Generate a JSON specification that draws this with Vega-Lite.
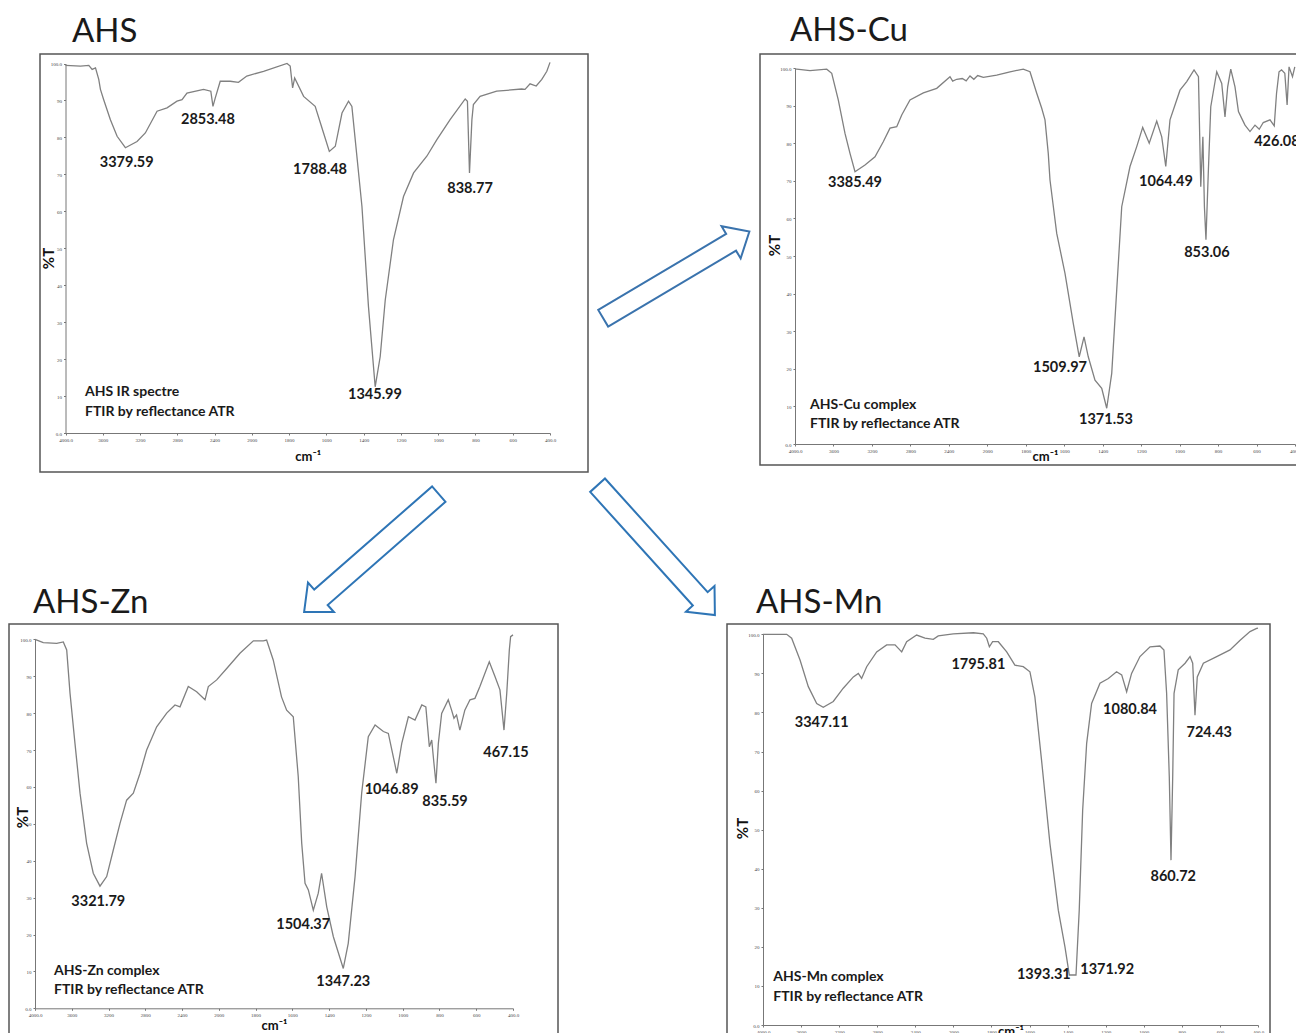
{
  "$schema": "https://vega.github.io/schema/vega-lite/v6.json",
  "background": "white",
  "padding": {"left": 6, "top": 14, "right": 0, "bottom": 0},
  "config": {
    "view": {"stroke": "#555555", "strokeWidth": 1.5},
    "font": "Lato",
    "axis": {"labelFont": "Liberation Serif", "labelFontSize": 5, "labelColor": "#444444", "tickColor": "#777777", "domainColor": "#777777", "tickSize": 2, "grid": false, "titleFont": "Lato, DejaVu Sans", "titleFontWeight": "bold", "titleColor": "#111111", "labelOverlap": false, "labelFlush": false, "labelBound": false, "labelPadding": 2},
    "title": {"font": "Lato", "fontSize": 33, "fontWeight": "normal", "color": "#1a1a1a", "anchor": "start", "frame": "group", "baseline": "alphabetic"}
  },
  "datasets": {
    "ahs": [
      {"w":4000,"T":99.5},{"w":3839,"T":99.3},{"w":3750,"T":99.5},{"w":3714,"T":98.4},{"w":3678,"T":98.8},{"w":3643,"T":95.7},{"w":3625,"T":93},{"w":3590,"T":90.2},{"w":3518,"T":84.8},{"w":3446,"T":80.3},{"w":3357,"T":77.2},{"w":3232,"T":78.9},{"w":3143,"T":81.2},{"w":3017,"T":87.1},{"w":2910,"T":88},{"w":2803,"T":89.8},{"w":2749,"T":90.2},{"w":2696,"T":92},{"w":2518,"T":93},{"w":2440,"T":92.5},{"w":2417,"T":88.4},{"w":2392,"T":90.7},{"w":2339,"T":95.2},{"w":2232,"T":95.2},{"w":2143,"T":94.9},{"w":2054,"T":96.6},{"w":1937,"T":97.9},{"w":1811,"T":100},{"w":1794,"T":99.3},{"w":1781,"T":93.4},{"w":1770,"T":96.1},{"w":1722,"T":91.1},{"w":1660,"T":88.4},{"w":1615,"T":81.2},{"w":1584,"T":76.2},{"w":1552,"T":77.6},{"w":1516,"T":86.6},{"w":1481,"T":89.8},{"w":1463,"T":88.4},{"w":1409,"T":61.3},{"w":1374,"T":34.2},{"w":1338,"T":12.5},{"w":1311,"T":20.7},{"w":1284,"T":36},{"w":1240,"T":52.3},{"w":1186,"T":64},{"w":1132,"T":70.4},{"w":1061,"T":74.9},{"w":1007,"T":79.4},{"w":936,"T":84.8},{"w":855,"T":90.4},{"w":843,"T":89.8},{"w":832,"T":70.4},{"w":819,"T":84.8},{"w":811,"T":88.9},{"w":775,"T":91.1},{"w":686,"T":92.5},{"w":552,"T":93.1},{"w":534,"T":93},{"w":507,"T":94.5},{"w":474,"T":93.9},{"w":444,"T":95.7},{"w":417,"T":97.9},{"w":400,"T":100.3}
    ],
    "ahs_lab": [
      {"w":3343,"T":73.1,"label":"3379.59"},{"w":2471,"T":84.8,"label":"2853.48"},{"w":1634,"T":71.1,"label":"1788.48"},{"w":829,"T":65.9,"label":"838.77"},{"w":1339,"T":10.3,"label":"1345.99"}
    ],
    "ahs_note": [
      {"w":3791,"T":11.2,"label":"AHS IR spectre"},{"w":3791,"T":5.8,"label":"FTIR by reflectance ATR"}
    ],
    "cu": [
      {"w":4000,"T":99.7},{"w":3982,"T":99.7},{"w":3844,"T":99.3},{"w":3670,"T":99.7},{"w":3618,"T":98.6},{"w":3550,"T":91.5},{"w":3480,"T":82.6},{"w":3428,"T":77.3},{"w":3376,"T":72.4},{"w":3272,"T":74.2},{"w":3168,"T":76.4},{"w":3082,"T":80.4},{"w":3012,"T":84},{"w":2942,"T":84.4},{"w":2890,"T":87.5},{"w":2804,"T":91.5},{"w":2665,"T":93.4},{"w":2526,"T":94.6},{"w":2388,"T":97.7},{"w":2360,"T":96.5},{"w":2318,"T":97},{"w":2260,"T":97.2},{"w":2220,"T":96.6},{"w":2180,"T":97.9},{"w":2140,"T":97},{"w":2100,"T":98},{"w":2041,"T":97.5},{"w":1951,"T":98.1},{"w":1882,"T":99},{"w":1813,"T":99.7},{"w":1778,"T":99},{"w":1743,"T":93.3},{"w":1717,"T":89.3},{"w":1700,"T":86.2},{"w":1683,"T":77.3},{"w":1674,"T":70.2},{"w":1639,"T":56},{"w":1596,"T":45.4},{"w":1553,"T":32.1},{"w":1522,"T":23.2},{"w":1497,"T":28.5},{"w":1475,"T":23.2},{"w":1440,"T":17},{"w":1405,"T":14.8},{"w":1379,"T":9.5},{"w":1353,"T":18.8},{"w":1327,"T":41},{"w":1301,"T":63.1},{"w":1258,"T":73.8},{"w":1223,"T":79.1},{"w":1192,"T":84.2},{"w":1158,"T":80},{"w":1119,"T":85.9},{"w":1093,"T":81.7},{"w":1072,"T":73.8},{"w":1050,"T":86.2},{"w":998,"T":94.1},{"w":963,"T":96.4},{"w":925,"T":99.5},{"w":902,"T":97.7},{"w":890,"T":68.4},{"w":879,"T":81.7},{"w":871,"T":63.1},{"w":863,"T":54.3},{"w":851,"T":72},{"w":838,"T":89.7},{"w":807,"T":99},{"w":781,"T":95.9},{"w":764,"T":87},{"w":750,"T":95},{"w":734,"T":99.7},{"w":712,"T":95},{"w":694,"T":88.4},{"w":677,"T":86.6},{"w":660,"T":84.8},{"w":634,"T":83.1},{"w":608,"T":84.8},{"w":586,"T":83.7},{"w":565,"T":85.5},{"w":530,"T":86.2},{"w":508,"T":84.6},{"w":496,"T":93.3},{"w":483,"T":99},{"w":470,"T":99.5},{"w":453,"T":98.6},{"w":441,"T":90.2},{"w":431,"T":100.3},{"w":413,"T":97.7},{"w":401,"T":100.3}
    ],
    "cu_lab": [
      {"w":3376,"T":69.3,"label":"3385.49"},{"w":1622,"T":20.1,"label":"1509.97"},{"w":1383,"T":6.4,"label":"1371.53"},{"w":1071,"T":69.8,"label":"1064.49"},{"w":858,"T":50.9,"label":"853.06"},{"w":494,"T":80.4,"label":"426.08"}
    ],
    "cu_note": [
      {"w":3844,"T":10.4,"label":"AHS-Cu complex"},{"w":3844,"T":5.3,"label":"FTIR by reflectance ATR"}
    ],
    "zn": [
      {"w":4000,"T":100},{"w":3910,"T":99.1},{"w":3764,"T":98.9},{"w":3692,"T":99.3},{"w":3655,"T":97.1},{"w":3619,"T":85.4},{"w":3565,"T":71.8},{"w":3510,"T":58.3},{"w":3438,"T":44.7},{"w":3366,"T":36.6},{"w":3293,"T":33.1},{"w":3220,"T":35.7},{"w":3148,"T":42.9},{"w":3075,"T":50.1},{"w":3003,"T":56.4},{"w":2930,"T":58.3},{"w":2857,"T":63.7},{"w":2785,"T":70},{"w":2676,"T":76.3},{"w":2567,"T":80},{"w":2477,"T":82.2},{"w":2422,"T":81.7},{"w":2332,"T":87.2},{"w":2241,"T":85.8},{"w":2150,"T":83.6},{"w":2114,"T":87.2},{"w":2023,"T":89},{"w":1957,"T":92.1},{"w":1885,"T":96.2},{"w":1812,"T":99.6},{"w":1758,"T":99.6},{"w":1740,"T":99.8},{"w":1704,"T":94.4},{"w":1659,"T":84.4},{"w":1631,"T":80.8},{"w":1595,"T":79},{"w":1568,"T":62.8},{"w":1549,"T":44.7},{"w":1531,"T":33.9},{"w":1513,"T":32.1},{"w":1486,"T":26.6},{"w":1459,"T":31.2},{"w":1441,"T":36.6},{"w":1413,"T":27.5},{"w":1377,"T":19.4},{"w":1323,"T":10.8},{"w":1296,"T":17.6},{"w":1259,"T":35.7},{"w":1223,"T":58.3},{"w":1187,"T":73.6},{"w":1150,"T":76.8},{"w":1105,"T":75},{"w":1078,"T":74.5},{"w":1032,"T":63.7},{"w":1005,"T":71.8},{"w":969,"T":79},{"w":933,"T":78.1},{"w":896,"T":82.2},{"w":874,"T":81.7},{"w":855,"T":70.9},{"w":842,"T":72.7},{"w":830,"T":66.4},{"w":819,"T":61},{"w":806,"T":71.8},{"w":788,"T":79.9},{"w":752,"T":83.6},{"w":734,"T":80.8},{"w":721,"T":78.6},{"w":707,"T":79.5},{"w":689,"T":75.4},{"w":662,"T":80.8},{"w":634,"T":83.6},{"w":607,"T":84},{"w":580,"T":87.2},{"w":529,"T":93.9},{"w":498,"T":89.9},{"w":471,"T":86.3},{"w":449,"T":75.4},{"w":434,"T":85.4},{"w":420,"T":97.1},{"w":413,"T":100.7},{"w":400,"T":101.2}
    ],
    "zn_lab": [
      {"w":3311,"T":28.9,"label":"3321.79"},{"w":1541,"T":22.6,"label":"1504.37"},{"w":1323,"T":7.2,"label":"1347.23"},{"w":1060,"T":59.2,"label":"1046.89"},{"w":770,"T":56,"label":"835.59"},{"w":438,"T":69.1,"label":"467.15"}
    ],
    "zn_note": [
      {"w":3793,"T":10.2,"label":"AHS-Zn complex"},{"w":3793,"T":4.9,"label":"FTIR by reflectance ATR"}
    ],
    "mn": [
      {"w":4000,"T":100},{"w":3751,"T":100},{"w":3699,"T":99},{"w":3611,"T":93.4},{"w":3524,"T":86.6},{"w":3436,"T":82.3},{"w":3367,"T":81.3},{"w":3262,"T":82.8},{"w":3157,"T":86.2},{"w":3051,"T":89.1},{"w":2999,"T":90},{"w":2964,"T":88.7},{"w":2911,"T":91.7},{"w":2806,"T":95.5},{"w":2701,"T":97.3},{"w":2613,"T":97.3},{"w":2543,"T":95.5},{"w":2491,"T":98.1},{"w":2386,"T":99.8},{"w":2298,"T":99},{"w":2211,"T":98.7},{"w":2159,"T":99.6},{"w":2001,"T":100.1},{"w":1895,"T":100.4},{"w":1843,"T":100.1},{"w":1825,"T":99},{"w":1811,"T":96.8},{"w":1794,"T":98.1},{"w":1764,"T":98.1},{"w":1720,"T":95.5},{"w":1677,"T":92.1},{"w":1633,"T":91.7},{"w":1598,"T":90.4},{"w":1572,"T":84},{"w":1537,"T":67.8},{"w":1493,"T":46.5},{"w":1449,"T":29.4},{"w":1414,"T":20},{"w":1391,"T":12.8},{"w":1356,"T":12.8},{"w":1339,"T":29.4},{"w":1321,"T":55},{"w":1300,"T":72.1},{"w":1274,"T":82.3},{"w":1230,"T":87.5},{"w":1186,"T":88.7},{"w":1143,"T":90.4},{"w":1116,"T":89.6},{"w":1090,"T":85.3},{"w":1064,"T":90},{"w":1020,"T":94.3},{"w":967,"T":96.8},{"w":915,"T":97},{"w":894,"T":96},{"w":880,"T":84.9},{"w":866,"T":63.6},{"w":857,"T":42.2},{"w":848,"T":63.6},{"w":841,"T":84.9},{"w":819,"T":90.9},{"w":783,"T":92.6},{"w":757,"T":94.3},{"w":743,"T":92.6},{"w":731,"T":79.3},{"w":719,"T":89.1},{"w":687,"T":92.6},{"w":617,"T":94.3},{"w":547,"T":96},{"w":494,"T":98.5},{"w":442,"T":100.7},{"w":407,"T":101.5},{"w":400,"T":101.6}
    ],
    "mn_lab": [
      {"w":3383,"T":77.2,"label":"3347.11"},{"w":1869,"T":92.1,"label":"1795.81"},{"w":1072,"T":80.6,"label":"1080.84"},{"w":656,"T":74.7,"label":"724.43"},{"w":845,"T":38,"label":"860.72"},{"w":1525,"T":12.8,"label":"1393.31"},{"w":1192,"T":14.1,"label":"1371.92"}
    ],
    "mn_note": [
      {"w":3892,"T":12.4,"label":"AHS-Mn complex"},{"w":3892,"T":7.2,"label":"FTIR by reflectance ATR"}
    ]
  },
  "bounds": "flush",
  "spacing": 570,
  "vconcat": [
    {
      "bounds": "flush",
      "spacing": 30,
      "hconcat": [
        {"width": 1, "height": 418, "view": {"stroke": null}, "data": {"values": [{}]}, "mark": {"type": "point", "opacity": 0}, "encoding": {}},
        {
          "bounds": "flush",
          "spacing": 172,
          "hconcat": [
            {
              "width": 548, "height": 418,
              "title": {"text": "AHS", "dx": 32, "offset": 5},
              "layer": [
                {
                  "data": {"name": "ahs"},
                  "mark": {"type": "line", "color": "#808080", "strokeWidth": 1.3},
                  "encoding": {
                    "x": {"field": "w", "type": "quantitative", "scale": {"domain": [4000, 2000, 400], "range": [25.5, 211.8, 510], "nice": false, "zero": false},
                      "axis": {"orient": "bottom", "offset": -39, "values": [4000,3600,3200,2800,2400,2000,1800,1600,1400,1200,1000,800,600,400], "format": "d", "labelExpr": "datum.value == 4000 ? '4000.0' : datum.value == 400 ? '400.0' : datum.label", "title": "cm⁻¹", "titleFontSize": 13, "titleBaseline": "middle", "titleY": 23}},
                    "y": {"field": "T", "type": "quantitative", "scale": {"domain": [0, 100], "range": [379, 9.5], "nice": false, "zero": false},
                      "axis": {"orient": "left", "offset": -25.5, "values": [0,5,10,15,20,25,30,35,40,45,50,55,60,65,70,75,80,85,90,95,100], "labelExpr": "datum.value == 100 ? '100.0' : datum.value == 0 ? '0.0' : datum.label", "title": "%T", "titleFontSize": 15, "titleBaseline": "middle", "titleAngle": -90, "titleX": -17, "titleY": 204}}
                  }
                },
                {
                  "data": {"name": "ahs_lab"},
                  "mark": {"type": "text", "font": "Lato", "fontWeight": "bold", "fontSize": 14.5, "color": "#1a1a1a", "align": "center", "baseline": "middle"},
                  "encoding": {"x": {"field": "w", "type": "quantitative"}, "y": {"field": "T", "type": "quantitative"}, "text": {"field": "label"}}
                },
                {
                  "data": {"name": "ahs_note"},
                  "mark": {"type": "text", "font": "Lato", "fontWeight": "bold", "fontSize": 14, "color": "#1a1a1a", "align": "left", "baseline": "middle"},
                  "encoding": {"x": {"field": "w", "type": "quantitative"}, "y": {"field": "T", "type": "quantitative"}, "text": {"field": "label"}}
                },
                {
                  "data": {"values": [{}]},
                  "mark": {"type": "point", "shape": "M-1,-0.114L0.75,-0.114L0.75,-0.22L1,0L0.75,0.22L0.75,0.114L-1,0.114Z", "size": 28900, "angle": -30.7, "filled": true, "fill": "#ffffff", "stroke": "#3a73ad", "strokeWidth": 2, "opacity": 1},
                  "encoding": {"x": {"datum": -277.6, "type": "quantitative"}, "y": {"datum": 42.8, "type": "quantitative"}}
                },
                {
                  "data": {"values": [{}]},
                  "mark": {"type": "point", "shape": "M-1,-0.114L0.75,-0.114L0.75,-0.22L1,0L0.75,0.22L0.75,0.114L-1,0.114Z", "size": 32041, "angle": 138.8, "filled": true, "fill": "#ffffff", "stroke": "#2e75b6", "strokeWidth": 2, "opacity": 1},
                  "encoding": {"x": {"datum": 1358, "type": "quantitative"}, "y": {"datum": -32.5, "type": "quantitative"}}
                },
                {
                  "data": {"values": [{}]},
                  "mark": {"type": "point", "shape": "M-1,-0.114L0.75,-0.114L0.75,-0.22L1,0L0.75,0.22L0.75,0.114L-1,0.114Z", "size": 30625, "angle": 47.9, "filled": true, "fill": "#ffffff", "stroke": "#2e75b6", "strokeWidth": 2, "opacity": 1},
                  "encoding": {"x": {"datum": -170, "type": "quantitative"}, "y": {"datum": -31.7, "type": "quantitative"}}
                }
              ]
            },
            {
              "width": 540, "height": 411,
              "title": {"text": "AHS-Cu", "dx": 30, "offset": 6},
              "layer": [
                {
                  "data": {"name": "cu"},
                  "mark": {"type": "line", "color": "#808080", "strokeWidth": 1.3},
                  "encoding": {
                    "x": {"field": "w", "type": "quantitative", "scale": {"domain": [4000, 2000, 400], "range": [35, 227.3, 535], "nice": false, "zero": false},
                      "axis": {"orient": "bottom", "offset": -21, "values": [4000,3600,3200,2800,2400,2000,1800,1600,1400,1200,1000,800,600,400], "format": "d", "labelExpr": "datum.value == 4000 ? '4000.0' : datum.value == 400 ? '400.0' : datum.label", "title": "cm⁻¹", "titleFontSize": 13, "titleBaseline": "middle", "titleY": 12}},
                    "y": {"field": "T", "type": "quantitative", "scale": {"domain": [0, 100], "range": [390, 14], "nice": false, "zero": false},
                      "axis": {"orient": "left", "offset": -35, "values": [0,5,10,15,20,25,30,35,40,45,50,55,60,65,70,75,80,85,90,95,100], "labelExpr": "datum.value == 100 ? '100.0' : datum.value == 0 ? '0.0' : datum.label", "title": "%T", "titleFontSize": 15, "titleBaseline": "middle", "titleAngle": -90, "titleX": -21, "titleY": 191}}
                  }
                },
                {
                  "data": {"name": "cu_lab"},
                  "mark": {"type": "text", "font": "Lato", "fontWeight": "bold", "fontSize": 14.5, "color": "#1a1a1a", "align": "center", "baseline": "middle"},
                  "encoding": {"x": {"field": "w", "type": "quantitative"}, "y": {"field": "T", "type": "quantitative"}, "text": {"field": "label"}}
                },
                {
                  "data": {"name": "cu_note"},
                  "mark": {"type": "text", "font": "Lato", "fontWeight": "bold", "fontSize": 14, "color": "#1a1a1a", "align": "left", "baseline": "middle"},
                  "encoding": {"x": {"field": "w", "type": "quantitative"}, "y": {"field": "T", "type": "quantitative"}, "text": {"field": "label"}}
                }
              ]
            }
          ]
        }
      ]
    },
    {
      "bounds": "flush",
      "spacing": 169,
      "hconcat": [
        {
          "width": 549, "height": 412,
          "title": {"text": "AHS-Zn", "dx": 24, "offset": 4},
          "layer": [
            {
              "data": {"name": "zn"},
              "mark": {"type": "line", "color": "#808080", "strokeWidth": 1.3},
              "encoding": {
                "x": {"field": "w", "type": "quantitative", "scale": {"domain": [4000, 2000, 400], "range": [26, 209.8, 504], "nice": false, "zero": false},
                  "axis": {"orient": "bottom", "offset": -27.7, "values": [4000,3600,3200,2800,2400,2000,1800,1600,1400,1200,1000,800,600,400], "format": "d", "labelExpr": "datum.value == 4000 ? '4000.0' : datum.value == 400 ? '400.0' : datum.label", "title": "cm⁻¹", "titleFontSize": 13, "titleBaseline": "middle", "titleY": 17}},
                "y": {"field": "T", "type": "quantitative", "scale": {"domain": [0, 100], "range": [384.3, 15.3], "nice": false, "zero": false},
                  "axis": {"orient": "left", "offset": -26, "values": [0,5,10,15,20,25,30,35,40,45,50,55,60,65,70,75,80,85,90,95,100], "labelExpr": "datum.value == 100 ? '100.0' : datum.value == 0 ? '0.0' : datum.label", "title": "%T", "titleFontSize": 15, "titleBaseline": "middle", "titleAngle": -90, "titleX": -13, "titleY": 193}}
              }
            },
            {
              "data": {"name": "zn_lab"},
              "mark": {"type": "text", "font": "Lato", "fontWeight": "bold", "fontSize": 14.5, "color": "#1a1a1a", "align": "center", "baseline": "middle"},
              "encoding": {"x": {"field": "w", "type": "quantitative"}, "y": {"field": "T", "type": "quantitative"}, "text": {"field": "label"}}
            },
            {
              "data": {"name": "zn_note"},
              "mark": {"type": "text", "font": "Lato", "fontWeight": "bold", "fontSize": 14, "color": "#1a1a1a", "align": "left", "baseline": "middle"},
              "encoding": {"x": {"field": "w", "type": "quantitative"}, "y": {"field": "T", "type": "quantitative"}, "text": {"field": "label"}}
            }
          ]
        },
        {
          "width": 543, "height": 412,
          "title": {"text": "AHS-Mn", "dx": 29, "offset": 4},
          "layer": [
            {
              "data": {"name": "mn"},
              "mark": {"type": "line", "color": "#808080", "strokeWidth": 1.3},
              "encoding": {
                "x": {"field": "w", "type": "quantitative", "scale": {"domain": [4000, 2000, 400], "range": [36, 226.4, 531], "nice": false, "zero": false},
                  "axis": {"orient": "bottom", "offset": -11, "values": [4000,3600,3200,2800,2400,2000,1800,1600,1400,1200,1000,800,600,400], "format": "d", "labelExpr": "datum.value == 4000 ? '4000.0' : datum.value == 400 ? '400.0' : datum.label", "title": "cm⁻¹", "titleFontSize": 13, "titleBaseline": "middle", "titleY": 6}},
                "y": {"field": "T", "type": "quantitative", "scale": {"domain": [0, 100], "range": [401, 10.3], "nice": false, "zero": false},
                  "axis": {"orient": "left", "offset": -36, "values": [0,5,10,15,20,25,30,35,40,45,50,55,60,65,70,75,80,85,90,95,100], "labelExpr": "datum.value == 100 ? '100.0' : datum.value == 0 ? '0.0' : datum.label", "title": "%T", "titleFontSize": 15, "titleBaseline": "middle", "titleAngle": -90, "titleX": -21, "titleY": 204}}
              }
            },
            {
              "data": {"name": "mn_lab"},
              "mark": {"type": "text", "font": "Lato", "fontWeight": "bold", "fontSize": 14.5, "color": "#1a1a1a", "align": "center", "baseline": "middle"},
              "encoding": {"x": {"field": "w", "type": "quantitative"}, "y": {"field": "T", "type": "quantitative"}, "text": {"field": "label"}}
            },
            {
              "data": {"name": "mn_note"},
              "mark": {"type": "text", "font": "Lato", "fontWeight": "bold", "fontSize": 14, "color": "#1a1a1a", "align": "left", "baseline": "middle"},
              "encoding": {"x": {"field": "w", "type": "quantitative"}, "y": {"field": "T", "type": "quantitative"}, "text": {"field": "label"}}
            }
          ]
        }
      ]
    }
  ]
}
